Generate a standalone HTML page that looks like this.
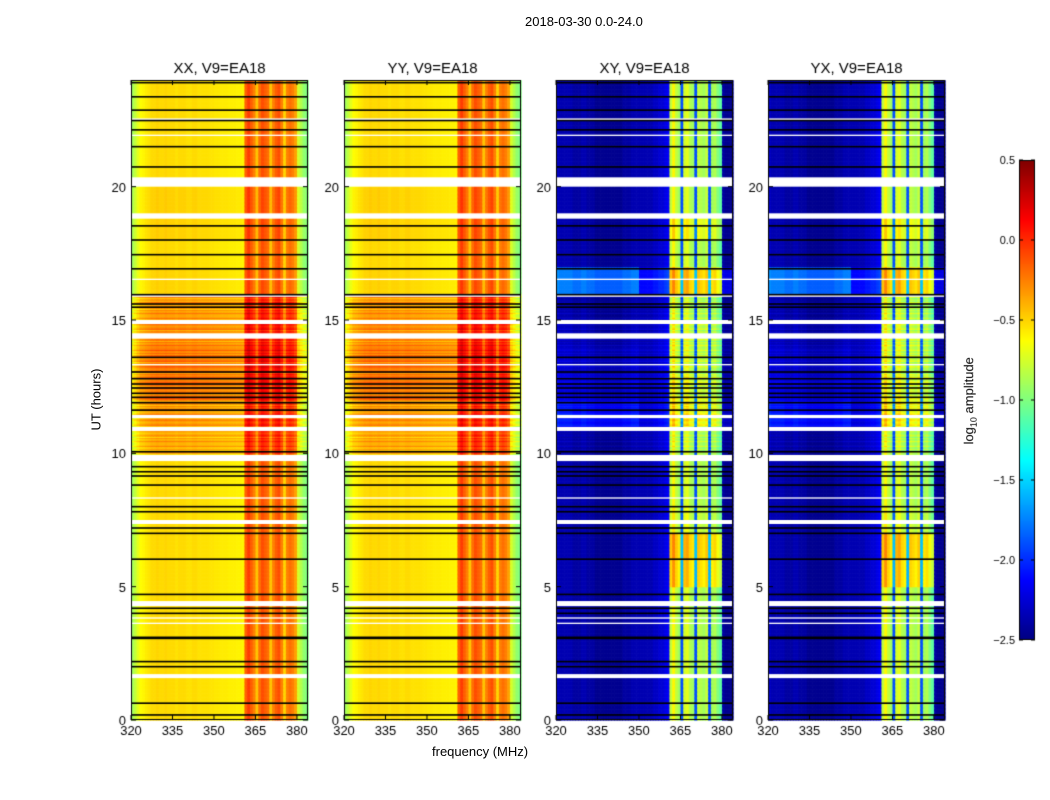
<!DOCTYPE html>
<html><head><meta charset="utf-8"><style>
body{margin:0;background:#fff;width:1050px;height:800px;position:relative;overflow:hidden;font-family:"Liberation Sans",sans-serif;}
.t{position:absolute;font-size:13px;color:#000;white-space:nowrap}
canvas{position:absolute}
</style></head><body>
<div class="t" style="left:525px;top:14px;font-size:13px">2018-03-30 0.0-24.0</div>
<canvas id="cv" width="1050" height="800" style="left:0;top:0"></canvas>
<div class="t" style="left:56px;top:392px;transform:rotate(-90deg);transform-origin:center;width:80px;text-align:center">UT (hours)</div>
<div class="t" style="left:432px;top:744px">frequency (MHz)</div>
<div class="t" style="left:915px;top:392px;transform:rotate(-90deg);width:110px;text-align:center">log<sub style="font-size:9px">10</sub> amplitude</div>
<script>
// ---- data ----
const panels=["XX, V9=EA18","YY, V9=EA18","XY, V9=EA18","YX, V9=EA18"];
const freqStart=320, freqStep=1;
const parallelProfile=[-0.9,-0.8,-0.7,-0.62,-0.6,-0.57,-0.55,-0.52,-0.52,-0.5,-0.52,-0.52,-0.5,-0.52,-0.52,-0.52,-0.54,-0.52,-0.52,-0.52,-0.54,-0.54,-0.52,-0.52,-0.54,-0.54,-0.54,-0.54,-0.55,-0.55,-0.56,-0.56,-0.57,-0.57,-0.57,-0.58,-0.58,-0.58,-0.59,-0.59,-0.6,-0.15,-0.05,-0.15,-0.25,-0.45,-0.2,-0.1,-0.15,-0.2,-0.45,-0.25,-0.15,-0.1,-0.25,-0.5,-0.25,-0.2,-0.25,-0.35,-0.75,-0.85,-0.95,-1.0];
const crossProfile=[-2.3,-2.35,-2.35,-2.35,-2.35,-2.35,-2.4,-2.4,-2.4,-2.35,-2.35,-2.4,-2.4,-2.4,-2.45,-2.45,-2.45,-2.45,-2.45,-2.45,-2.45,-2.45,-2.45,-2.45,-2.4,-2.4,-2.4,-2.35,-2.35,-2.35,-2.35,-2.35,-2.35,-2.35,-2.35,-2.3,-2.3,-2.25,-2.25,-2.2,-2.15,-0.8,-0.6,-0.8,-0.9,-1.9,-0.75,-0.7,-0.85,-0.9,-1.9,-0.8,-0.85,-0.9,-0.8,-1.9,-0.9,-0.85,-1.0,-1.1,-2.4,-2.45,-2.45,-2.45];
const parallelHourOffset=[0,0,0,0,0,0,0,0,0,0,0.15,0.2,0.3,0.3,0.25,0.2,0.02,0,0.03,0.03,0,0,0,0];
const crossHourOffset=[0,0,0,0,0,0.3,0.35,0.05,0,0,0,0.2,0.1,0.05,0.05,0,0.35,0,0.15,0,0,0,0,0];
const crossBgHourOffset=[0,0,0,0,0,0,0,0,0,0,0,0.3,0.15,0.1,0.05,0,0.6,0,0,0,0,0,0,0];
const stripe=[0,0.12,-0.08,0.05,-0.12,0.1,0,-0.05];
const flagged=[[20.0,20.35],[22.47,22.56],[18.8,19.0],[14.85,15.0],[14.3,14.5],[15.87,15.97],[11.32,11.44],[10.84,10.99],[9.71,9.94],[7.35,7.5],[4.27,4.46],[1.57,1.72],[16.5,16.55],[21.9,21.95],[3.6,3.65],[3.8,3.85],[8.3,8.35],[13.3,13.35]];
const blackLines=[23.9,23.37,22.87,22.48,22.13,21.5,20.74,18.53,18.0,17.45,16.92,15.95,15.6,15.48,13.6,13.05,12.8,12.6,12.45,12.25,12.1,11.9,11.62,10.06,9.5,9.31,9.15,8.81,8.0,7.81,7.2,7.0,6.03,4.71,4.19,4.0,3.1,3.06,2.19,2.0,0.63,0.19];
const xTicks=[320,335,350,365,380];
const yTicks=[0,5,10,15,20];
const cbTicks=[0.5,0.0,-0.5,-1.0,-1.5,-2.0,-2.5];
// ---- layout ----
const panelX=[131,344,556,768], pw=177, pTop=80, pBot=720;
const fmin=320,fmax=384,tmin=0,tmax=24,vmin=-2.5,vmax=0.5;
const xs=(p,f)=>panelX[p]+(f-fmin)/(fmax-fmin)*pw;
const ys=t=>pBot-(t-tmin)/(tmax-tmin)*(pBot-pTop);
function jet(v){let x=(v-vmin)/(vmax-vmin);x=Math.max(0,Math.min(1,x));
 const c=(a)=>Math.round(255*Math.max(0,Math.min(1,a)));
 const r=1.5-Math.abs(4*x-3),g=1.5-Math.abs(4*x-2),b=1.5-Math.abs(4*x-1);
 return `rgb(${c(r)},${c(g)},${c(b)})`;}
const ctx=document.getElementById('cv').getContext('2d');
const dt=0.05;
for(let p=0;p<4;p++){
 const cross=p>=2, prof=cross?crossProfile:parallelProfile, off=cross?crossHourOffset:parallelHourOffset;
 for(let i=0;i<Math.round(24/dt);i++){
  const t=i*dt, h=Math.min(23,Math.floor(t));
  const s=(h>=10&&h<16?stripe[i%stripe.length]:0);
  const y0=ys(t+dt),y1=ys(t);
  for(let k=0;k<prof.length;k++){
   const f=freqStart+k*freqStep;
   let v;
   if(cross&&prof[k]<-2){v=prof[k]+crossBgHourOffset[h]*(k<30?1:0.4)+s*0.5;}
   else v=prof[k]+off[h]+s;
   ctx.fillStyle=jet(v);
   const x0=xs(p,f),x1=xs(p,f+freqStep);
   ctx.fillRect(x0,y0,x1-x0+0.6,y1-y0+0.6);
  }
 }
 ctx.fillStyle='#fff';
 flagged.forEach(([a,b])=>ctx.fillRect(panelX[p],ys(b),pw,ys(a)-ys(b)));
 ctx.fillStyle='#000';
 blackLines.forEach(t=>ctx.fillRect(panelX[p],ys(t)-0.8,pw,1.6));
 ctx.strokeStyle='#000';ctx.lineWidth=1;
 ctx.strokeRect(panelX[p]+0.5,pTop+0.5,pw-1,pBot-pTop-1);
 ctx.font='13px "Liberation Sans"';ctx.textAlign='center';
 xTicks.forEach(f=>{const x=xs(p,f);ctx.beginPath();ctx.moveTo(x,pBot);ctx.lineTo(x,pBot-5);ctx.moveTo(x,pTop);ctx.lineTo(x,pTop+5);ctx.stroke();ctx.fillText(f,x,pBot+15);});
 ctx.textAlign='right';
 yTicks.forEach(t=>{const y=ys(t);ctx.beginPath();ctx.moveTo(panelX[p],y);ctx.lineTo(panelX[p]+5,y);ctx.moveTo(panelX[p]+pw,y);ctx.lineTo(panelX[p]+pw-5,y);ctx.stroke();ctx.fillText(t,panelX[p]-5,y+5);});
 ctx.font='15px "Liberation Sans"';ctx.textAlign='center';
 ctx.fillText(panels[p],panelX[p]+pw/2,73);
}
// colorbar
const cbx=1019,cbw=16,cbt=160,cbb=640;
for(let y=cbt;y<cbb;y++){ctx.fillStyle=jet(vmax-(y-cbt)/(cbb-cbt)*(vmax-vmin));ctx.fillRect(cbx,y,cbw,1);}
ctx.strokeStyle='#000';ctx.strokeRect(cbx+0.5,cbt+0.5,cbw-1,cbb-cbt-1);
ctx.font='11px "Liberation Sans"';ctx.textAlign='right';ctx.fillStyle='#000';
cbTicks.forEach(v=>{const y=cbt+(vmax-v)/(vmax-vmin)*(cbb-cbt);ctx.beginPath();ctx.moveTo(cbx+cbw,y);ctx.lineTo(cbx+cbw-4,y);ctx.moveTo(cbx,y);ctx.lineTo(cbx+4,y);ctx.stroke();ctx.fillText((v<0?'\u2212':'')+Math.abs(v).toFixed(1),cbx-4,y+4);});
</script>
</body></html>
